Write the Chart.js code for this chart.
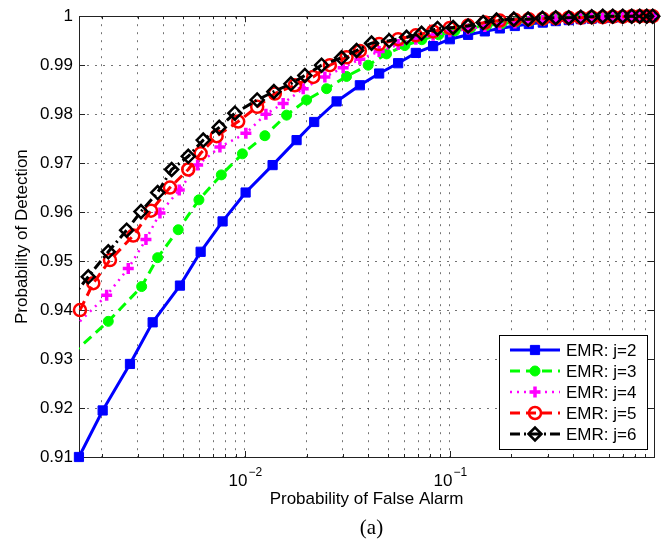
<!DOCTYPE html>
<html>
<head>
<meta charset="utf-8">
<script src="https://cdn.jsdelivr.net/npm/chart.js@4.4.1/dist/chart.umd.min.js"></script>
<style>
  html, body { margin: 0; padding: 0; background: #fff; }
  #wrap { width: 670px; height: 552px; }
</style>
</head>
<body>
<div id="wrap"><canvas id="myChart" width="670" height="552"></canvas></div>
<script>
// series names
const seriesNames = ['EMR: j=2', 'EMR: j=3', 'EMR: j=4', 'EMR: j=5', 'EMR: j=6'];

// probability of false alarm / detection
const pfaJ2 = [0.001549, 0.002022, 0.002748, 0.003546, 0.004819, 0.006081, 0.007782, 0.01008, 0.01365, 0.01787, 0.02179, 0.02802, 0.03639, 0.04520, 0.05595, 0.06827, 0.08288, 0.1000, 0.1228, 0.1482, 0.1754, 0.2076, 0.2429, 0.2843, 0.3289, 0.3806, 0.4355, 0.4928, 0.5576, 0.6239, 0.6981, 0.7724, 0.8450, 0.9142, 0.9777];
const pdJ2 = [0.9100, 0.9195, 0.9290, 0.9375, 0.9450, 0.9519, 0.9581, 0.9640, 0.9696, 0.9747, 0.9784, 0.9826, 0.9859, 0.9883, 0.9904, 0.9925, 0.9939, 0.9953, 0.9962, 0.9969, 0.9975, 0.9980, 0.9984, 0.9987, 0.9990, 0.9992, 0.9994, 0.9995, 0.9996, 0.9997, 0.9998, 0.9999, 0.9999, 1.0000, 1.0000];

const pfaJ3 = [0.001433, 0.002154, 0.003134, 0.003751, 0.004727, 0.005965, 0.007672, 0.009723, 0.01252, 0.01597, 0.02000, 0.02503, 0.03134, 0.03995, 0.04911, 0.06032, 0.07302, 0.08836, 0.1058, 0.1266, 0.1515, 0.1794, 0.2099, 0.2456, 0.2874, 0.3327, 0.3849, 0.4404, 0.4985, 0.5638, 0.6310, 0.7059, 0.7809, 0.8545, 0.9245];
const pdJ3 = [0.9310, 0.9377, 0.9448, 0.9507, 0.9564, 0.9625, 0.9676, 0.9719, 0.9756, 0.9798, 0.9829, 0.9852, 0.9877, 0.9900, 0.9923, 0.9940, 0.9952, 0.9962, 0.9970, 0.9976, 0.9981, 0.9985, 0.9988, 0.9990, 0.9992, 0.9994, 0.9995, 0.9996, 0.9997, 0.9998, 0.9998, 0.9999, 0.9999, 1.0000, 1.0000];

const pfaJ4 = [0.001400, 0.002115, 0.002696, 0.003289, 0.003849, 0.004781, 0.005879, 0.007551, 0.01011, 0.01266, 0.01537, 0.01925, 0.02456, 0.03016, 0.03639, 0.04520, 0.05595, 0.06827, 0.08288, 0.1000, 0.1228, 0.1482, 0.1754, 0.2076, 0.2429, 0.2843, 0.3289, 0.3806, 0.4355, 0.4928, 0.5576, 0.6239, 0.6981, 0.7724, 0.8450, 0.9142, 0.9777];
const pdJ4 = [0.9357, 0.9430, 0.9485, 0.9544, 0.9598, 0.9645, 0.9696, 0.9733, 0.9761, 0.9800, 0.9822, 0.9852, 0.9876, 0.9895, 0.9912, 0.9928, 0.9942, 0.9953, 0.9961, 0.9968, 0.9974, 0.9979, 0.9983, 0.9986, 0.9989, 0.9991, 0.9993, 0.9994, 0.9995, 0.9996, 0.9997, 0.9998, 0.9998, 0.9999, 0.9999, 1.0000, 1.0000];

const pfaJ5 = [0.001567, 0.001820, 0.002195, 0.002852, 0.003480, 0.004306, 0.005290, 0.006081, 0.007278, 0.009274, 0.01148, 0.01400, 0.01753, 0.02154, 0.02598, 0.03134, 0.03639, 0.04520, 0.05595, 0.06827, 0.08288, 0.1000, 0.1228, 0.1482, 0.1754, 0.2076, 0.2429, 0.2843, 0.3289, 0.3806, 0.4355, 0.4928, 0.5576, 0.6239, 0.6981, 0.7724, 0.8450, 0.9142, 0.9777];
const pdJ5 = [0.9400, 0.9455, 0.9502, 0.9552, 0.9603, 0.9650, 0.9687, 0.9720, 0.9755, 0.9785, 0.9815, 0.9842, 0.9859, 0.9876, 0.9900, 0.9916, 0.9929, 0.9943, 0.9953, 0.9961, 0.9969, 0.9976, 0.9981, 0.9987, 0.9991, 0.9993, 0.9994, 0.9995, 0.9996, 0.9997, 0.9997, 0.9998, 0.9998, 0.9999, 0.9999, 1.0000, 1.0000, 1.0000, 1.0000];

const pfaJ6 = [0.001400, 0.001720, 0.002154, 0.002648, 0.003110, 0.003751, 0.004390, 0.005290, 0.006260, 0.007492, 0.008936, 0.01148, 0.01385, 0.01677, 0.01962, 0.02367, 0.02963, 0.03507, 0.04150, 0.05057, 0.06149, 0.07278, 0.08710, 0.1038, 0.1228, 0.1454, 0.1690, 0.2052, 0.2410, 0.2833, 0.3289, 0.3806, 0.4355, 0.4928, 0.5576, 0.6239, 0.6981, 0.7724, 0.8450, 0.9142, 0.9777];
const pdJ6 = [0.9420, 0.9468, 0.9519, 0.9563, 0.9601, 0.9640, 0.9687, 0.9714, 0.9747, 0.9773, 0.9802, 0.9829, 0.9846, 0.9862, 0.9879, 0.9900, 0.9915, 0.9930, 0.9945, 0.9950, 0.9957, 0.9965, 0.9975, 0.9977, 0.9980, 0.9987, 0.9992, 0.9994, 0.9994, 0.9996, 0.9997, 0.9997, 0.9998, 0.9999, 1.0000, 1.0000, 1.0000, 1.0000, 1.0000, 1.0000, 1.0000];

// axes
const xMin = 0.00155;
const xMax = 0.992;
const xMajorTicks = [0.01, 0.1];
const xLabels = ['10', '10'];
const xLabelExps = ['\u22122', '\u22121'];
const xGridTicks = [0.002, 0.003, 0.004, 0.005, 0.006, 0.007, 0.008, 0.009, 0.01,
  0.02, 0.03, 0.04, 0.05, 0.06, 0.07, 0.08, 0.09, 0.1,
  0.2, 0.3, 0.4, 0.5, 0.6, 0.7, 0.8, 0.9];
const yTickValues = [0.91, 0.92, 0.93, 0.94, 0.95, 0.96, 0.97, 0.98, 0.99, 1];

const FONT = "'Liberation Sans', Arial, sans-serif";
Chart.defaults.font.family = FONT;
Chart.defaults.font.size = 17;
Chart.defaults.color = '#000';

function pts(xs, ys) {
  return xs.map(function(x, i) { return {x: x, y: ys[i]}; });
}

const noClipLeft = {left: 0, top: 9, right: 9, bottom: 9};

const datasets = [
  {
    label: seriesNames[0], data: pts(pfaJ2, pdJ2),
    borderColor: '#0000ff', backgroundColor: '#0000ff', borderWidth: 3,
    pointStyle: 'rect', pointRadius: 6.5, pointBorderWidth: 1, pointBackgroundColor: '#0000ff',
    order: 5, clip: 9
  },
  {
    label: seriesNames[1], data: pts(pfaJ3, pdJ3),
    borderColor: '#00ff00', backgroundColor: '#00ff00', borderWidth: 3, borderDash: [10, 6],
    pointStyle: 'circle', pointRadius: 5, pointBorderWidth: 1, pointBackgroundColor: '#00ff00',
    order: 4, clip: noClipLeft
  },
  {
    label: seriesNames[2], data: pts(pfaJ4, pdJ4),
    borderColor: '#ff00ff', backgroundColor: '#ff00ff', borderWidth: 2.5, borderDash: [2, 5],
    pointStyle: 'cross', pointRadius: 5.5, pointBorderWidth: 3.5, pointBackgroundColor: '#ff00ff',
    order: 3, clip: noClipLeft
  },
  {
    label: seriesNames[3], data: pts(pfaJ5, pdJ5),
    borderColor: '#ff0000', backgroundColor: 'rgba(0,0,0,0)', borderWidth: 3, borderDash: [10, 6],
    pointStyle: 'circle', pointRadius: 6, pointBorderWidth: 2.5, pointBackgroundColor: 'rgba(0,0,0,0)',
    order: 2, clip: 9
  },
  {
    label: seriesNames[4], data: pts(pfaJ6, pdJ6),
    borderColor: '#000000', backgroundColor: 'rgba(0,0,0,0)', borderWidth: 3, borderDash: [10, 4, 2, 4],
    pointStyle: 'rectRot', pointRadius: 6.5, pointBorderWidth: 2.5, pointBackgroundColor: 'rgba(0,0,0,0)',
    order: 1, clip: noClipLeft
  }
];

// box, inside tick marks, exponent tick labels, legend and caption
const matlabFrame = {
  id: 'matlabFrame',
  beforeDatasetsDraw: function(chart) {
    const ctx = chart.ctx;
    const a = chart.chartArea;
    const xs = chart.scales.x;
    const ys = chart.scales.y;
    ctx.save();
    ctx.strokeStyle = '#222';
    ctx.lineWidth = 1;
    ctx.beginPath();
    yTickValues.forEach(function(v) {
      const y = Math.round(ys.getPixelForValue(v)) + 0.5;
      ctx.moveTo(a.left, y); ctx.lineTo(a.left + 6, y);
      ctx.moveTo(a.right, y); ctx.lineTo(a.right - 6, y);
    });
    xGridTicks.forEach(function(v) {
      const x = Math.round(xs.getPixelForValue(v)) + 0.5;
      const len = xMajorTicks.indexOf(v) >= 0 ? 6 : 3;
      ctx.moveTo(x, a.bottom); ctx.lineTo(x, a.bottom - len);
      ctx.moveTo(x, a.top); ctx.lineTo(x, a.top + len);
    });
    ctx.stroke();
    ctx.strokeRect(Math.round(a.left) + 0.5, Math.round(a.top) + 0.5,
      Math.round(a.right - a.left), Math.round(a.bottom - a.top));
    ctx.restore();
  },
  afterDraw: function(chart) {
    const ctx = chart.ctx;
    const a = chart.chartArea;
    const xs = chart.scales.x;
    ctx.save();
    ctx.fillStyle = '#000';
    ctx.textBaseline = 'alphabetic';
    ctx.textAlign = 'left';
    xMajorTicks.forEach(function(v, i) {
      const x = xs.getPixelForValue(v);
      ctx.font = '17px ' + FONT;
      const w1 = ctx.measureText(xLabels[i]).width;
      ctx.font = '12px ' + FONT;
      const w2 = ctx.measureText(xLabelExps[i]).width;
      const x0 = x - (w1 + w2) / 2;
      ctx.font = '17px ' + FONT;
      ctx.fillText(xLabels[i], x0, 486);
      ctx.font = '12px ' + FONT;
      ctx.fillText(xLabelExps[i], x0 + w1 + 1, 476);
    });

    // legend
    const lx = 499, ly = 335, lw = 148, lh = 114;
    ctx.fillStyle = '#fff';
    ctx.fillRect(lx, ly, lw, lh);
    ctx.strokeStyle = '#000';
    ctx.lineWidth = 1;
    ctx.strokeRect(lx + 0.5, ly + 0.5, lw, lh);
    datasets.forEach(function(ds, i) {
      const y = ly + 15 + i * 21;
      ctx.save();
      ctx.strokeStyle = ds.borderColor;
      ctx.lineWidth = ds.borderWidth;
      ctx.setLineDash(ds.borderDash || []);
      ctx.beginPath();
      ctx.moveTo(510, y); ctx.lineTo(560, y);
      ctx.stroke();
      ctx.setLineDash([]);
      ctx.fillStyle = ds.pointBackgroundColor;
      ctx.lineWidth = ds.pointBorderWidth;
      Chart.helpers.drawPoint(ctx, {
        pointStyle: ds.pointStyle, radius: ds.pointRadius, rotation: 0, borderWidth: ds.pointBorderWidth
      }, 535, y);
      ctx.restore();
      ctx.fillStyle = '#000';
      ctx.font = '17px ' + FONT;
      ctx.textBaseline = 'middle';
      ctx.fillText(ds.label, 566, y + 1);
    });

    // caption
    ctx.font = "21px 'Liberation Serif', 'Times New Roman', serif";
    ctx.textAlign = 'center';
    ctx.textBaseline = 'middle';
    ctx.fillStyle = '#000';
    ctx.fillText('(a)', (a.left + a.right) / 2 + 5, 528);
    ctx.restore();
  }
};

const gridColor = 'rgba(0,0,0,0.55)';

const ctx = document.getElementById('myChart').getContext('2d');
const chart = new Chart(ctx, {
  type: 'line',
  data: { datasets: datasets },
  options: {
    responsive: false,
    animation: false,
    devicePixelRatio: 1,
    layout: { padding: { left: 0, right: 16, top: 12, bottom: 40 } },
    elements: { line: { tension: 0 } },
    plugins: {
      legend: { display: false },
      tooltip: { enabled: false }
    },
    scales: {
      x: {
        type: 'logarithmic',
        min: xMin,
        max: xMax,
        afterBuildTicks: function(s) { s.ticks = xGridTicks.map(function(v) { return {value: v}; }); },
        afterFit: function(s) { s.height = 55; },
        ticks: { display: false },
        grid: { color: gridColor, lineWidth: 1, drawTicks: false },
        border: { display: false, dash: [2, 6] },
        title: {
          display: true, text: 'Probability of False Alarm', color: '#000',
          font: { size: 17 }, padding: { top: 0, bottom: 2 }
        }
      },
      y: {
        min: 0.91,
        max: 1,
        afterBuildTicks: function(s) { s.ticks = yTickValues.map(function(v) { return {value: v}; }); },
        afterFit: function(s) { s.width = 79; },
        ticks: {
          color: '#000', font: { size: 17 }, padding: 6, autoSkip: false,
          callback: function(v) { return v === 1 ? '1' : Number(v).toFixed(2); }
        },
        grid: { color: gridColor, lineWidth: 1, drawTicks: false },
        border: { display: false, dash: [2, 6] },
        title: {
          display: true, text: 'Probability of Detection', color: '#000',
          font: { size: 17 }, padding: { top: 12, bottom: 0 }
        }
      }
    }
  },
  plugins: [matlabFrame]
});
</script>
</body>
</html>
